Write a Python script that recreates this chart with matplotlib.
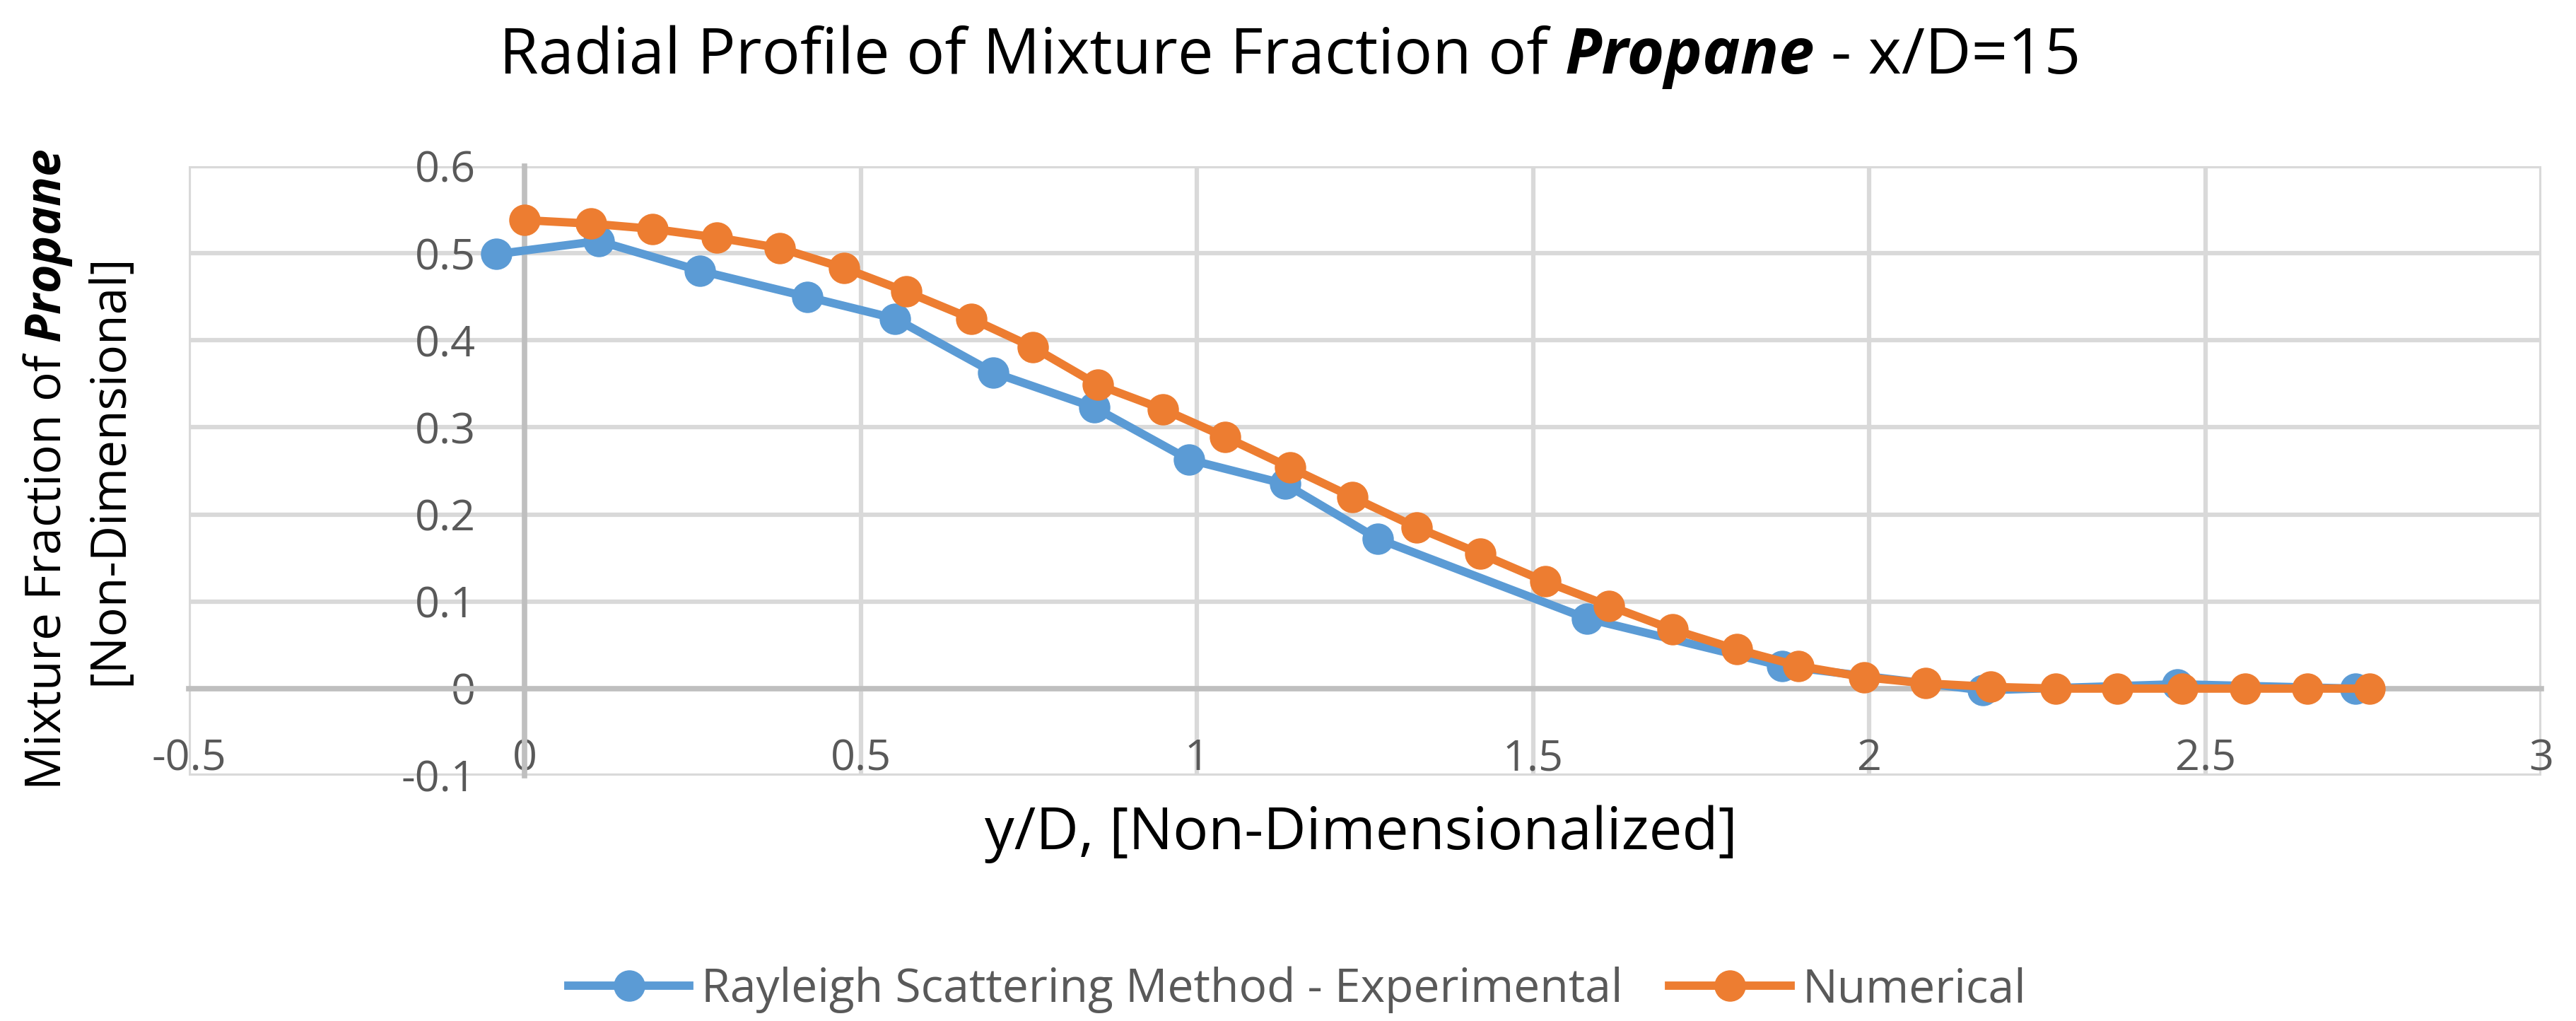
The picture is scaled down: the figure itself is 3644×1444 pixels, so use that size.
import matplotlib
matplotlib.use("Agg")
import matplotlib.pyplot as plt
from matplotlib.ticker import FixedLocator, FixedFormatter

# numerical (CFD) profile
x_num = [0.000, 0.098, 0.190, 0.286, 0.379, 0.475, 0.567, 0.664, 0.756, 0.852,
         0.949, 1.042, 1.138, 1.231, 1.327, 1.421, 1.518, 1.613, 1.707, 1.803,
         1.895, 1.993, 2.084, 2.181, 2.277, 2.369, 2.466, 2.559, 2.652, 2.744]
y_num = [0.538, 0.534, 0.528, 0.518, 0.506, 0.483, 0.456, 0.425, 0.392, 0.349,
         0.321, 0.289, 0.254, 0.220, 0.185, 0.155, 0.123, 0.095, 0.068, 0.045,
         0.026, 0.013, 0.006, 0.002, 0.0, 0.0, 0.0, 0.0, 0.0, 0.0]

# Rayleigh scattering measurements
x_exp = [-0.042, 0.110, 0.260, 0.420, 0.551, 0.697, 0.847, 0.988, 1.131, 1.269,
         1.580, 1.870, 2.169, 2.458, 2.723]
y_exp = [0.499, 0.514, 0.480, 0.450, 0.425, 0.363, 0.323, 0.263, 0.235, 0.172,
         0.0805, 0.026, -0.002, 0.005, 0.0]

x_ticks = [-0.5, 0, 0.5, 1, 1.5, 2, 2.5, 3]
x_tick_labels = ["-0.5", "0", "0.5", "1", "1.5", "2", "2.5", "3"]
y_ticks = [-0.1, 0, 0.1, 0.2, 0.3, 0.4, 0.5, 0.6]
y_tick_labels = ["-0.1", "0", "0.1", "0.2", "0.3", "0.4", "0.5", "0.6"]

BLUE = "#5B9BD5"
ORANGE = "#ED7D31"
GRID = "#D9D9D9"
AXIS = "#BFBFBF"
TXT = "#595959"
FONT = "Open Sans"

plt.rcParams["mathtext.fontset"] = "custom"
plt.rcParams["mathtext.rm"] = FONT
plt.rcParams["mathtext.bfit"] = FONT + ":italic:bold"

W, H = 3644, 1444
fig = plt.figure(figsize=(W / 100, H / 100), dpi=100)
fig.patch.set_facecolor("white")
ax = fig.add_axes([267 / W, 1 - 1097 / H, (3595 - 267) / W, (1097 - 235) / H])

ax.plot(x_exp, y_exp, color=BLUE, lw=8.5, marker="o", ms=31,
        label="Rayleigh Scattering Method - Experimental", zorder=3)
ax.plot(x_num, y_num, color=ORANGE, lw=8.5, marker="o", ms=31,
        label="Numerical", zorder=4)

ax.set_xlim(-0.5, 3)
ax.set_ylim(-0.1, 0.6)
ax.xaxis.set_major_locator(FixedLocator(x_ticks))
ax.xaxis.set_major_formatter(FixedFormatter(x_tick_labels))
ax.yaxis.set_major_locator(FixedLocator(y_ticks))
ax.yaxis.set_major_formatter(FixedFormatter(y_tick_labels))

ax.grid(True, color=GRID, lw=4.5, zorder=0)
ax.set_axisbelow(True)
for gl in ax.get_xgridlines() + ax.get_ygridlines():
    gl.set_clip_on(False)

for side in ["top", "right"]:
    ax.spines[side].set_visible(False)
for side in ["left", "bottom"]:
    ax.spines[side].set_position(("data", 0))
    ax.spines[side].set_color(AXIS)
    ax.spines[side].set_linewidth(5.5)
    ax.spines[side].set_zorder(1)

ax.tick_params(axis="x", length=0, pad=50, labelsize=44, labelcolor=TXT)
ax.tick_params(axis="y", length=0, pad=50, labelsize=44, labelcolor=TXT)
for lab in ax.get_xticklabels() + ax.get_yticklabels():
    lab.set_fontfamily(FONT)

# title with bold italic word, built from three pieces then centred
tsize = 65
t1 = fig.text(0, 1 - 104 / H, "Radial Profile of Mixture Fraction of", fontsize=tsize,
              family=FONT, ha="left", va="baseline", color="black")
t2 = ax.annotate("Propane", xy=(1, 0), xycoords=t1, xytext=(tsize * 0.26, 0),
                 textcoords="offset points", va="bottom", ha="left", fontsize=tsize,
                 family=FONT, style="italic", weight="bold", annotation_clip=False)
t3 = ax.annotate("- x/D=15", xy=(1, 0), xycoords=t2, xytext=(tsize * 0.26, 0),
                 textcoords="offset points", va="bottom", ha="left", fontsize=tsize,
                 family=FONT, annotation_clip=False)
fig.canvas.draw()
r = fig.canvas.get_renderer()
x0 = t1.get_window_extent(r).x0
x1 = t3.get_window_extent(r).x1
t1.set_x((1825 - (x1 - x0) / 2) / W)

fig.text(110 / W, 1 - 664 / H,
         "Mixture Fraction of $\\mathbfit{Propane}$\n[Non-Dimensional]",
         rotation=90, ha="center", va="center", multialignment="center",
         fontsize=50, family=FONT, linespacing=1.28)

fig.text(1925 / W, 1 - 1180 / H, "y/D, [Non-Dimensionalized]", fontsize=60,
         family=FONT, ha="center", va="center", color="black")

leg = fig.legend(loc="center", bbox_to_anchor=(1835 / W, 1 - 1400 / H), ncol=2,
                 frameon=False, handlelength=2.6, handletextpad=0.25,
                 columnspacing=1.0, prop={"family": FONT, "size": 47.5})
for t in leg.get_texts():
    t.set_color(TXT)

fig.savefig("out.png", dpi=100, facecolor="white")
